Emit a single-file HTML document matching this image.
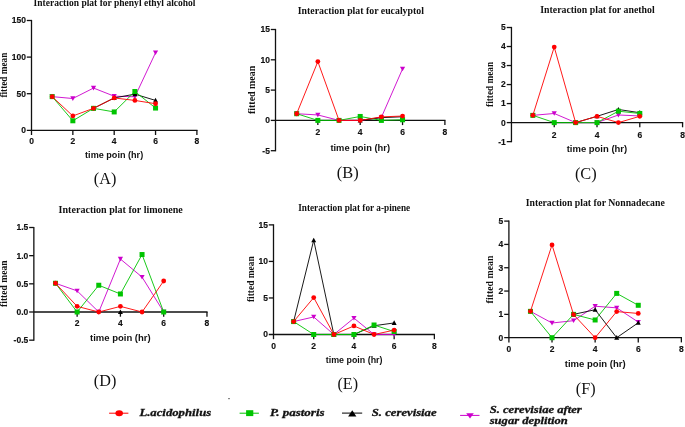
<!DOCTYPE html>
<html><head><meta charset="utf-8"><title>Interaction plots</title>
<style>
html,body{margin:0;padding:0;background:#fff;}
body{width:685px;height:427px;overflow:hidden;}
svg{display:block;will-change:transform;}
.ax{stroke:#111111;stroke-width:1.3;fill:none;}
.tk{font-family:"Liberation Sans",sans-serif;font-weight:bold;font-size:8.5px;fill:#111;stroke:#111;stroke-width:0.15px;}
.ti{font-family:"Liberation Serif",serif;font-weight:bold;font-size:9.8px;fill:#111;}
.yl{font-family:"Liberation Serif",serif;font-weight:bold;font-size:9.4px;fill:#111;}
.xl{font-family:"Liberation Sans",sans-serif;font-weight:bold;font-size:9px;fill:#111;}
.pl{font-family:"Liberation Serif",serif;font-size:17px;fill:#111;}
.lg{font-family:"Liberation Serif",serif;font-weight:bold;font-style:italic;font-size:10.8px;fill:#111;stroke:#111;stroke-width:0.3px;}
</style></head>
<body><svg width="685" height="427" viewBox="0 0 685 427">
<rect width="685" height="427" fill="#fff"/>
<g><line x1="31.5" y1="19.9" x2="31.5" y2="135" class="ax"/>
<line x1="26.8" y1="130.3" x2="197.5" y2="130.3" class="ax"/>
<text x="25.9" y="133.2" class="tk" text-anchor="end">0</text>
<line x1="26.8" y1="93.7" x2="31.5" y2="93.7" class="ax"/>
<text x="25.9" y="96.6" class="tk" text-anchor="end">50</text>
<line x1="26.8" y1="57.1" x2="31.5" y2="57.1" class="ax"/>
<text x="25.9" y="60" class="tk" text-anchor="end">100</text>
<line x1="26.8" y1="20.5" x2="31.5" y2="20.5" class="ax"/>
<text x="25.9" y="23.4" class="tk" text-anchor="end">150</text>
<text x="31.5" y="144" class="tk" text-anchor="middle">0</text>
<line x1="72.85" y1="130.3" x2="72.85" y2="135" class="ax"/>
<text x="72.85" y="144" class="tk" text-anchor="middle">2</text>
<line x1="114.2" y1="130.3" x2="114.2" y2="135" class="ax"/>
<text x="114.2" y="144" class="tk" text-anchor="middle">4</text>
<line x1="155.55" y1="130.3" x2="155.55" y2="135" class="ax"/>
<text x="155.55" y="144" class="tk" text-anchor="middle">6</text>
<line x1="196.9" y1="130.3" x2="196.9" y2="135" class="ax"/>
<text x="196.9" y="144" class="tk" text-anchor="middle">8</text>
<polyline points="52.17,96.63 72.85,98.53 93.53,88.06 114.2,96.19 134.88,96.77 155.55,52.71" fill="none" stroke="#cc00cc" stroke-width="0.9"/>
<path d="M49.57 94.43L54.77 94.43L52.17 99.03Z" fill="#cc00cc"/>
<path d="M70.25 96.33L75.45 96.33L72.85 100.93Z" fill="#cc00cc"/>
<path d="M90.93 85.86L96.12 85.86L93.53 90.46Z" fill="#cc00cc"/>
<path d="M111.6 93.99L116.8 93.99L114.2 98.59Z" fill="#cc00cc"/>
<path d="M132.28 94.57L137.47 94.57L134.88 99.17Z" fill="#cc00cc"/>
<path d="M152.95 50.51L158.15 50.51L155.55 55.11Z" fill="#cc00cc"/>
<polyline points="93.53,108.34 114.2,97.95 134.88,94.14 155.55,100.43" fill="none" stroke="#000000" stroke-width="0.9"/>
<path d="M91.03 110.34L93.53 105.74L96.03 110.34Z" fill="#000000"/>
<path d="M111.7 99.95L114.2 95.35L116.7 99.95Z" fill="#000000"/>
<path d="M132.38 96.14L134.88 91.54L137.38 96.14Z" fill="#000000"/>
<path d="M153.05 102.43L155.55 97.83L158.05 102.43Z" fill="#000000"/>
<polyline points="52.17,96.63 72.85,120.78 93.53,108.34 114.2,111.93 134.88,91.5 155.55,108.05" fill="none" stroke="#00c400" stroke-width="0.9"/>
<rect x="49.67" y="94.13" width="5" height="5" fill="#00c400"/>
<rect x="70.35" y="118.28" width="5" height="5" fill="#00c400"/>
<rect x="91.03" y="105.84" width="5" height="5" fill="#00c400"/>
<rect x="111.7" y="109.43" width="5" height="5" fill="#00c400"/>
<rect x="132.38" y="89" width="5" height="5" fill="#00c400"/>
<rect x="153.05" y="105.55" width="5" height="5" fill="#00c400"/>
<polyline points="52.17,96.63 72.85,115.95 93.53,108.34 114.2,97.95 134.88,100.43 155.55,103.73" fill="none" stroke="#ff0000" stroke-width="0.9"/>
<circle cx="52.17" cy="96.63" r="2.4" fill="#ff0000"/>
<circle cx="72.85" cy="115.95" r="2.4" fill="#ff0000"/>
<circle cx="93.53" cy="108.34" r="2.4" fill="#ff0000"/>
<circle cx="114.2" cy="97.95" r="2.4" fill="#ff0000"/>
<circle cx="134.88" cy="100.43" r="2.4" fill="#ff0000"/>
<circle cx="155.55" cy="103.73" r="2.4" fill="#ff0000"/>
<text x="33.5" y="6.3" class="ti" textLength="162" lengthAdjust="spacingAndGlyphs">Interaction plat for phenyl ethyl alcohol</text>
<text transform="translate(6.6,75.1) rotate(-90)" x="-22.5" y="0" class="yl" textLength="45" lengthAdjust="spacingAndGlyphs">fitted mean</text>
<text x="85.1" y="158.4" class="xl" textLength="58.1" lengthAdjust="spacingAndGlyphs">time poin (hr)</text>
<text x="93.8" y="184" class="pl" textLength="22.5" lengthAdjust="spacingAndGlyphs">(A)</text></g>
<g><line x1="275.5" y1="28.9" x2="275.5" y2="151.3" class="ax"/>
<line x1="275.5" y1="120.4" x2="445.5" y2="120.4" class="ax"/>
<line x1="270.8" y1="150.7" x2="275.5" y2="150.7" class="ax"/>
<text x="269.9" y="153.6" class="tk" text-anchor="end">-5</text>
<line x1="270.8" y1="120.4" x2="275.5" y2="120.4" class="ax"/>
<text x="269.9" y="123.3" class="tk" text-anchor="end">0</text>
<line x1="270.8" y1="90.1" x2="275.5" y2="90.1" class="ax"/>
<text x="269.9" y="93" class="tk" text-anchor="end">5</text>
<line x1="270.8" y1="59.8" x2="275.5" y2="59.8" class="ax"/>
<text x="269.9" y="62.7" class="tk" text-anchor="end">10</text>
<line x1="270.8" y1="29.5" x2="275.5" y2="29.5" class="ax"/>
<text x="269.9" y="32.4" class="tk" text-anchor="end">15</text>
<line x1="317.85" y1="120.4" x2="317.85" y2="125.1" class="ax"/>
<text x="317.85" y="135.1" class="tk" text-anchor="middle">2</text>
<line x1="360.2" y1="120.4" x2="360.2" y2="125.1" class="ax"/>
<text x="360.2" y="135.1" class="tk" text-anchor="middle">4</text>
<line x1="402.55" y1="120.4" x2="402.55" y2="125.1" class="ax"/>
<text x="402.55" y="135.1" class="tk" text-anchor="middle">6</text>
<line x1="444.9" y1="120.4" x2="444.9" y2="125.1" class="ax"/>
<text x="444.9" y="135.1" class="tk" text-anchor="middle">8</text>
<polyline points="296.68,113.73 317.85,114.95 339.02,120.4 360.2,120.4 381.38,117.37 402.55,68.89" fill="none" stroke="#cc00cc" stroke-width="0.9"/>
<path d="M294.07 111.53L299.28 111.53L296.68 116.13Z" fill="#cc00cc"/>
<path d="M315.25 112.75L320.45 112.75L317.85 117.35Z" fill="#cc00cc"/>
<path d="M336.42 118.2L341.62 118.2L339.02 122.8Z" fill="#cc00cc"/>
<path d="M357.6 118.2L362.8 118.2L360.2 122.8Z" fill="#cc00cc"/>
<path d="M378.77 115.17L383.98 115.17L381.38 119.77Z" fill="#cc00cc"/>
<path d="M399.95 66.69L405.15 66.69L402.55 71.29Z" fill="#cc00cc"/>
<polyline points="360.2,120.4 381.38,117.67 402.55,116.76" fill="none" stroke="#000000" stroke-width="0.9"/>
<path d="M357.7 122.4L360.2 117.8L362.7 122.4Z" fill="#000000"/>
<path d="M378.88 119.67L381.38 115.07L383.88 119.67Z" fill="#000000"/>
<path d="M400.05 118.76L402.55 114.16L405.05 118.76Z" fill="#000000"/>
<polyline points="296.68,113.73 317.85,120.4 339.02,120.4 360.2,116.46 381.38,120.4 402.55,119.79" fill="none" stroke="#00c400" stroke-width="0.9"/>
<rect x="294.18" y="111.23" width="5" height="5" fill="#00c400"/>
<rect x="315.35" y="117.9" width="5" height="5" fill="#00c400"/>
<rect x="336.52" y="117.9" width="5" height="5" fill="#00c400"/>
<rect x="357.7" y="113.96" width="5" height="5" fill="#00c400"/>
<rect x="378.88" y="117.9" width="5" height="5" fill="#00c400"/>
<rect x="400.05" y="117.29" width="5" height="5" fill="#00c400"/>
<polyline points="296.68,113.73 317.85,61.62 339.02,120.4 360.2,120.4 381.38,116.89 402.55,116.04" fill="none" stroke="#ff0000" stroke-width="0.9"/>
<circle cx="296.68" cy="113.73" r="2.4" fill="#ff0000"/>
<circle cx="317.85" cy="61.62" r="2.4" fill="#ff0000"/>
<circle cx="339.02" cy="120.4" r="2.4" fill="#ff0000"/>
<circle cx="360.2" cy="120.4" r="2.4" fill="#ff0000"/>
<circle cx="381.38" cy="116.89" r="2.4" fill="#ff0000"/>
<circle cx="402.55" cy="116.04" r="2.4" fill="#ff0000"/>
<text x="297.8" y="13.9" class="ti" textLength="126.1" lengthAdjust="spacingAndGlyphs">Interaction plat for eucalyptol</text>
<text transform="translate(254.7,89.9) rotate(-90)" x="-24.1" y="0" class="yl" textLength="48.2" lengthAdjust="spacingAndGlyphs">fitted mean</text>
<text x="330.4" y="150.5" class="xl" textLength="59.6" lengthAdjust="spacingAndGlyphs">time poin (hr)</text>
<text x="336.8" y="178.1" class="pl" textLength="21.9" lengthAdjust="spacingAndGlyphs">(B)</text></g>
<g><line x1="511.45" y1="26.9" x2="511.45" y2="142.22" class="ax"/>
<line x1="511.45" y1="122.6" x2="683.17" y2="122.6" class="ax"/>
<line x1="506.75" y1="141.62" x2="511.45" y2="141.62" class="ax"/>
<text x="505.85" y="144.52" class="tk" text-anchor="end">-1</text>
<line x1="506.75" y1="122.6" x2="511.45" y2="122.6" class="ax"/>
<text x="505.85" y="125.5" class="tk" text-anchor="end">0</text>
<line x1="506.75" y1="103.58" x2="511.45" y2="103.58" class="ax"/>
<text x="505.85" y="106.48" class="tk" text-anchor="end">1</text>
<line x1="506.75" y1="84.56" x2="511.45" y2="84.56" class="ax"/>
<text x="505.85" y="87.46" class="tk" text-anchor="end">2</text>
<line x1="506.75" y1="65.54" x2="511.45" y2="65.54" class="ax"/>
<text x="505.85" y="68.44" class="tk" text-anchor="end">3</text>
<line x1="506.75" y1="46.52" x2="511.45" y2="46.52" class="ax"/>
<text x="505.85" y="49.42" class="tk" text-anchor="end">4</text>
<line x1="506.75" y1="27.5" x2="511.45" y2="27.5" class="ax"/>
<text x="505.85" y="30.4" class="tk" text-anchor="end">5</text>
<line x1="554.23" y1="122.6" x2="554.23" y2="127.3" class="ax"/>
<text x="554.23" y="137.6" class="tk" text-anchor="middle">2</text>
<line x1="597.01" y1="122.6" x2="597.01" y2="127.3" class="ax"/>
<text x="597.01" y="137.6" class="tk" text-anchor="middle">4</text>
<line x1="639.79" y1="122.6" x2="639.79" y2="127.3" class="ax"/>
<text x="639.79" y="137.6" class="tk" text-anchor="middle">6</text>
<line x1="682.57" y1="122.6" x2="682.57" y2="127.3" class="ax"/>
<text x="682.57" y="137.6" class="tk" text-anchor="middle">8</text>
<polyline points="532.84,115.37 554.23,113.47 575.62,122.6 597.01,122.6 618.4,114.99 639.79,115.94" fill="none" stroke="#cc00cc" stroke-width="0.9"/>
<path d="M530.24 113.17L535.44 113.17L532.84 117.77Z" fill="#cc00cc"/>
<path d="M551.63 111.27L556.83 111.27L554.23 115.87Z" fill="#cc00cc"/>
<path d="M573.02 120.4L578.22 120.4L575.62 125Z" fill="#cc00cc"/>
<path d="M594.41 120.4L599.61 120.4L597.01 125Z" fill="#cc00cc"/>
<path d="M615.8 112.79L621 112.79L618.4 117.39Z" fill="#cc00cc"/>
<path d="M637.19 113.74L642.39 113.74L639.79 118.34Z" fill="#cc00cc"/>
<polyline points="575.62,122.6 597.01,116.32 618.4,109.48 639.79,112.71" fill="none" stroke="#000000" stroke-width="0.9"/>
<path d="M573.12 124.6L575.62 120L578.12 124.6Z" fill="#000000"/>
<path d="M594.51 118.32L597.01 113.72L599.51 118.32Z" fill="#000000"/>
<path d="M615.9 111.48L618.4 106.88L620.9 111.48Z" fill="#000000"/>
<path d="M637.29 114.71L639.79 110.11L642.29 114.71Z" fill="#000000"/>
<polyline points="532.84,115.37 554.23,122.6 575.62,122.6 597.01,122.6 618.4,111.19 639.79,113.47" fill="none" stroke="#00c400" stroke-width="0.9"/>
<rect x="530.34" y="112.87" width="5" height="5" fill="#00c400"/>
<rect x="551.73" y="120.1" width="5" height="5" fill="#00c400"/>
<rect x="573.12" y="120.1" width="5" height="5" fill="#00c400"/>
<rect x="594.51" y="120.1" width="5" height="5" fill="#00c400"/>
<rect x="615.9" y="108.69" width="5" height="5" fill="#00c400"/>
<rect x="637.29" y="110.97" width="5" height="5" fill="#00c400"/>
<polyline points="532.84,115.37 554.23,47.09 575.62,122.6 597.01,116.32 618.4,122.6 639.79,116.32" fill="none" stroke="#ff0000" stroke-width="0.9"/>
<circle cx="532.84" cy="115.37" r="2.4" fill="#ff0000"/>
<circle cx="554.23" cy="47.09" r="2.4" fill="#ff0000"/>
<circle cx="575.62" cy="122.6" r="2.4" fill="#ff0000"/>
<circle cx="597.01" cy="116.32" r="2.4" fill="#ff0000"/>
<circle cx="618.4" cy="122.6" r="2.4" fill="#ff0000"/>
<circle cx="639.79" cy="116.32" r="2.4" fill="#ff0000"/>
<text x="540.2" y="12.7" class="ti" textLength="114.5" lengthAdjust="spacingAndGlyphs">Interaction plat for anethol</text>
<text transform="translate(493.3,84.4) rotate(-90)" x="-22.5" y="0" class="yl" textLength="45" lengthAdjust="spacingAndGlyphs">fitted mean</text>
<text x="566.7" y="152.4" class="xl" textLength="60.5" lengthAdjust="spacingAndGlyphs">time poin (hr)</text>
<text x="574.9" y="178.5" class="pl" textLength="21.8" lengthAdjust="spacingAndGlyphs">(C)</text></g>
<g><line x1="33.85" y1="226.91" x2="33.85" y2="340.77" class="ax"/>
<line x1="33.85" y1="312" x2="207.57" y2="312" class="ax"/>
<line x1="29.15" y1="340.17" x2="33.85" y2="340.17" class="ax"/>
<text x="28.25" y="343.06" class="tk" text-anchor="end">-0.5</text>
<line x1="29.15" y1="312" x2="33.85" y2="312" class="ax"/>
<text x="28.25" y="314.9" class="tk" text-anchor="end">0.0</text>
<line x1="29.15" y1="283.83" x2="33.85" y2="283.83" class="ax"/>
<text x="28.25" y="286.73" class="tk" text-anchor="end">0.5</text>
<line x1="29.15" y1="255.67" x2="33.85" y2="255.67" class="ax"/>
<text x="28.25" y="258.57" class="tk" text-anchor="end">1.0</text>
<line x1="29.15" y1="227.5" x2="33.85" y2="227.5" class="ax"/>
<text x="28.25" y="230.41" class="tk" text-anchor="end">1.5</text>
<line x1="77.13" y1="312" x2="77.13" y2="316.7" class="ax"/>
<text x="77.13" y="326.3" class="tk" text-anchor="middle">2</text>
<line x1="120.41" y1="312" x2="120.41" y2="316.7" class="ax"/>
<text x="120.41" y="326.3" class="tk" text-anchor="middle">4</text>
<line x1="163.69" y1="312" x2="163.69" y2="316.7" class="ax"/>
<text x="163.69" y="326.3" class="tk" text-anchor="middle">6</text>
<line x1="206.97" y1="312" x2="206.97" y2="316.7" class="ax"/>
<text x="206.97" y="326.3" class="tk" text-anchor="middle">8</text>
<polyline points="55.49,283.27 77.13,290.88 98.77,312 120.41,259.05 142.05,277.08 163.69,312" fill="none" stroke="#cc00cc" stroke-width="0.9"/>
<path d="M52.89 281.07L58.09 281.07L55.49 285.67Z" fill="#cc00cc"/>
<path d="M74.53 288.68L79.73 288.68L77.13 293.28Z" fill="#cc00cc"/>
<path d="M96.17 309.8L101.37 309.8L98.77 314.4Z" fill="#cc00cc"/>
<path d="M117.81 256.85L123.01 256.85L120.41 261.45Z" fill="#cc00cc"/>
<path d="M139.45 274.88L144.65 274.88L142.05 279.48Z" fill="#cc00cc"/>
<path d="M161.09 309.8L166.29 309.8L163.69 314.4Z" fill="#cc00cc"/>
<path d="M117.91 314L120.41 309.4L122.91 314Z" fill="#000000"/>
<polyline points="55.49,283.27 77.13,312 98.77,285.24 120.41,293.97 142.05,254.54 163.69,312" fill="none" stroke="#00c400" stroke-width="0.9"/>
<rect x="52.99" y="280.77" width="5" height="5" fill="#00c400"/>
<rect x="74.63" y="309.5" width="5" height="5" fill="#00c400"/>
<rect x="96.27" y="282.74" width="5" height="5" fill="#00c400"/>
<rect x="117.91" y="291.47" width="5" height="5" fill="#00c400"/>
<rect x="139.55" y="252.04" width="5" height="5" fill="#00c400"/>
<rect x="161.19" y="309.5" width="5" height="5" fill="#00c400"/>
<polyline points="55.49,283.27 77.13,306.37 98.77,312 120.41,306.37 142.05,312 163.69,281.02" fill="none" stroke="#ff0000" stroke-width="0.9"/>
<circle cx="55.49" cy="283.27" r="2.4" fill="#ff0000"/>
<circle cx="77.13" cy="306.37" r="2.4" fill="#ff0000"/>
<circle cx="98.77" cy="312" r="2.4" fill="#ff0000"/>
<circle cx="120.41" cy="306.37" r="2.4" fill="#ff0000"/>
<circle cx="142.05" cy="312" r="2.4" fill="#ff0000"/>
<circle cx="163.69" cy="281.02" r="2.4" fill="#ff0000"/>
<text x="58.6" y="212.9" class="ti" textLength="124.2" lengthAdjust="spacingAndGlyphs">Interaction plat for limonene</text>
<text transform="translate(7,283.7) rotate(-90)" x="-23.2" y="0" class="yl" textLength="46.4" lengthAdjust="spacingAndGlyphs">fitted mean</text>
<text x="90" y="341.2" class="xl" textLength="60.7" lengthAdjust="spacingAndGlyphs">time poin (hr)</text>
<text x="93.8" y="386.1" class="pl" textLength="22.5" lengthAdjust="spacingAndGlyphs">(D)</text></g>
<g><line x1="273.5" y1="224.29" x2="273.5" y2="339.2" class="ax"/>
<line x1="268.8" y1="334.5" x2="434.98" y2="334.5" class="ax"/>
<text x="267.9" y="337.4" class="tk" text-anchor="end">0</text>
<line x1="268.8" y1="297.96" x2="273.5" y2="297.96" class="ax"/>
<text x="267.9" y="300.86" class="tk" text-anchor="end">5</text>
<line x1="268.8" y1="261.43" x2="273.5" y2="261.43" class="ax"/>
<text x="267.9" y="264.33" class="tk" text-anchor="end">10</text>
<line x1="268.8" y1="224.89" x2="273.5" y2="224.89" class="ax"/>
<text x="267.9" y="227.79" class="tk" text-anchor="end">15</text>
<text x="273.5" y="348.6" class="tk" text-anchor="middle">0</text>
<line x1="313.72" y1="334.5" x2="313.72" y2="339.2" class="ax"/>
<text x="313.72" y="348.6" class="tk" text-anchor="middle">2</text>
<line x1="353.94" y1="334.5" x2="353.94" y2="339.2" class="ax"/>
<text x="353.94" y="348.6" class="tk" text-anchor="middle">4</text>
<line x1="394.16" y1="334.5" x2="394.16" y2="339.2" class="ax"/>
<text x="394.16" y="348.6" class="tk" text-anchor="middle">6</text>
<line x1="434.38" y1="334.5" x2="434.38" y2="339.2" class="ax"/>
<text x="434.38" y="348.6" class="tk" text-anchor="middle">8</text>
<polyline points="293.61,321.57 313.72,316.96 333.83,334.5 353.94,318.13 374.05,334.5 394.16,334.5" fill="none" stroke="#cc00cc" stroke-width="0.9"/>
<path d="M291.01 319.37L296.21 319.37L293.61 323.97Z" fill="#cc00cc"/>
<path d="M311.12 314.76L316.32 314.76L313.72 319.36Z" fill="#cc00cc"/>
<path d="M331.23 332.3L336.43 332.3L333.83 336.9Z" fill="#cc00cc"/>
<path d="M351.34 315.93L356.54 315.93L353.94 320.53Z" fill="#cc00cc"/>
<path d="M371.45 332.3L376.65 332.3L374.05 336.9Z" fill="#cc00cc"/>
<path d="M391.56 332.3L396.76 332.3L394.16 336.9Z" fill="#cc00cc"/>
<polyline points="293.61,321.57 313.72,240.24 333.83,334.5 353.94,334.5 374.05,325.73 394.16,322.95" fill="none" stroke="#000000" stroke-width="0.9"/>
<path d="M291.11 323.57L293.61 318.97L296.11 323.57Z" fill="#000000"/>
<path d="M311.22 242.24L313.72 237.64L316.22 242.24Z" fill="#000000"/>
<path d="M331.33 336.5L333.83 331.9L336.33 336.5Z" fill="#000000"/>
<path d="M351.44 336.5L353.94 331.9L356.44 336.5Z" fill="#000000"/>
<path d="M371.55 327.73L374.05 323.13L376.55 327.73Z" fill="#000000"/>
<path d="M391.66 324.95L394.16 320.35L396.66 324.95Z" fill="#000000"/>
<polyline points="293.61,321.57 313.72,334.5 333.83,334.5 353.94,334.5 374.05,325 394.16,331.58" fill="none" stroke="#00c400" stroke-width="0.9"/>
<rect x="291.11" y="319.07" width="5" height="5" fill="#00c400"/>
<rect x="311.22" y="332" width="5" height="5" fill="#00c400"/>
<rect x="331.33" y="332" width="5" height="5" fill="#00c400"/>
<rect x="351.44" y="332" width="5" height="5" fill="#00c400"/>
<rect x="371.55" y="322.5" width="5" height="5" fill="#00c400"/>
<rect x="391.66" y="329.08" width="5" height="5" fill="#00c400"/>
<polyline points="293.61,321.57 313.72,297.6 333.83,334.5 353.94,325.95 374.05,334.5 394.16,330.12" fill="none" stroke="#ff0000" stroke-width="0.9"/>
<circle cx="293.61" cy="321.57" r="2.4" fill="#ff0000"/>
<circle cx="313.72" cy="297.6" r="2.4" fill="#ff0000"/>
<circle cx="333.83" cy="334.5" r="2.4" fill="#ff0000"/>
<circle cx="353.94" cy="325.95" r="2.4" fill="#ff0000"/>
<circle cx="374.05" cy="334.5" r="2.4" fill="#ff0000"/>
<circle cx="394.16" cy="330.12" r="2.4" fill="#ff0000"/>
<text x="298.2" y="210.8" class="ti" textLength="112" lengthAdjust="spacingAndGlyphs">Interaction plat for a-pinene</text>
<text transform="translate(254,279.2) rotate(-90)" x="-22.85" y="0" class="yl" textLength="45.7" lengthAdjust="spacingAndGlyphs">fitted mean</text>
<text x="325.8" y="362.8" class="xl" textLength="56.7" lengthAdjust="spacingAndGlyphs">time poin (hr)</text>
<text x="337.5" y="388.5" class="pl" textLength="20.5" lengthAdjust="spacingAndGlyphs">(E)</text></g>
<g><line x1="508.9" y1="220.5" x2="508.9" y2="342.4" class="ax"/>
<line x1="504.2" y1="337.7" x2="681.98" y2="337.7" class="ax"/>
<text x="503.3" y="340.6" class="tk" text-anchor="end">0</text>
<line x1="504.2" y1="314.38" x2="508.9" y2="314.38" class="ax"/>
<text x="503.3" y="317.28" class="tk" text-anchor="end">1</text>
<line x1="504.2" y1="291.06" x2="508.9" y2="291.06" class="ax"/>
<text x="503.3" y="293.96" class="tk" text-anchor="end">2</text>
<line x1="504.2" y1="267.74" x2="508.9" y2="267.74" class="ax"/>
<text x="503.3" y="270.64" class="tk" text-anchor="end">3</text>
<line x1="504.2" y1="244.42" x2="508.9" y2="244.42" class="ax"/>
<text x="503.3" y="247.32" class="tk" text-anchor="end">4</text>
<line x1="504.2" y1="221.1" x2="508.9" y2="221.1" class="ax"/>
<text x="503.3" y="224" class="tk" text-anchor="end">5</text>
<text x="508.9" y="352.4" class="tk" text-anchor="middle">0</text>
<line x1="552.02" y1="337.7" x2="552.02" y2="342.4" class="ax"/>
<text x="552.02" y="352.4" class="tk" text-anchor="middle">2</text>
<line x1="595.14" y1="337.7" x2="595.14" y2="342.4" class="ax"/>
<text x="595.14" y="352.4" class="tk" text-anchor="middle">4</text>
<line x1="638.26" y1="337.7" x2="638.26" y2="342.4" class="ax"/>
<text x="638.26" y="352.4" class="tk" text-anchor="middle">6</text>
<line x1="681.38" y1="337.7" x2="681.38" y2="342.4" class="ax"/>
<text x="681.38" y="352.4" class="tk" text-anchor="middle">8</text>
<polyline points="530.46,311.35 552.02,323.01 573.58,320.68 595.14,306.22 616.7,307.85 638.26,322.08" fill="none" stroke="#cc00cc" stroke-width="0.9"/>
<path d="M527.86 309.15L533.06 309.15L530.46 313.75Z" fill="#cc00cc"/>
<path d="M549.42 320.81L554.62 320.81L552.02 325.41Z" fill="#cc00cc"/>
<path d="M570.98 318.48L576.18 318.48L573.58 323.08Z" fill="#cc00cc"/>
<path d="M592.54 304.02L597.74 304.02L595.14 308.62Z" fill="#cc00cc"/>
<path d="M614.1 305.65L619.3 305.65L616.7 310.25Z" fill="#cc00cc"/>
<path d="M635.66 319.88L640.86 319.88L638.26 324.48Z" fill="#cc00cc"/>
<polyline points="573.58,314.38 595.14,309.72 616.7,337.7 638.26,322.78" fill="none" stroke="#000000" stroke-width="0.9"/>
<path d="M571.08 316.38L573.58 311.78L576.08 316.38Z" fill="#000000"/>
<path d="M592.64 311.72L595.14 307.12L597.64 311.72Z" fill="#000000"/>
<path d="M614.2 339.7L616.7 335.1L619.2 339.7Z" fill="#000000"/>
<path d="M635.76 324.78L638.26 320.18L640.76 324.78Z" fill="#000000"/>
<polyline points="530.46,311.35 552.02,337.7 573.58,314.38 595.14,319.98 616.7,293.39 638.26,305.29" fill="none" stroke="#00c400" stroke-width="0.9"/>
<rect x="527.96" y="308.85" width="5" height="5" fill="#00c400"/>
<rect x="549.52" y="335.2" width="5" height="5" fill="#00c400"/>
<rect x="571.08" y="311.88" width="5" height="5" fill="#00c400"/>
<rect x="592.64" y="317.48" width="5" height="5" fill="#00c400"/>
<rect x="614.2" y="290.89" width="5" height="5" fill="#00c400"/>
<rect x="635.76" y="302.79" width="5" height="5" fill="#00c400"/>
<polyline points="530.46,311.35 552.02,244.89 573.58,314.61 595.14,337.7 616.7,311.58 638.26,313.45" fill="none" stroke="#ff0000" stroke-width="0.9"/>
<circle cx="530.46" cy="311.35" r="2.4" fill="#ff0000"/>
<circle cx="552.02" cy="244.89" r="2.4" fill="#ff0000"/>
<circle cx="573.58" cy="314.61" r="2.4" fill="#ff0000"/>
<circle cx="595.14" cy="337.7" r="2.4" fill="#ff0000"/>
<circle cx="616.7" cy="311.58" r="2.4" fill="#ff0000"/>
<circle cx="638.26" cy="313.45" r="2.4" fill="#ff0000"/>
<text x="525.7" y="205.5" class="ti" textLength="139.1" lengthAdjust="spacingAndGlyphs">Interaction plat for Nonnadecane</text>
<text transform="translate(493,279.5) rotate(-90)" x="-23.9" y="0" class="yl" textLength="47.8" lengthAdjust="spacingAndGlyphs">fitted mean</text>
<text x="564.8" y="367.3" class="xl" textLength="60.8" lengthAdjust="spacingAndGlyphs">time poin (hr)</text>
<text x="575.8" y="394.1" class="pl" textLength="19.7" lengthAdjust="spacingAndGlyphs">(F)</text></g>
<g><line x1="109.1" y1="413.2" x2="128.4" y2="413.2" stroke="#ff0000" stroke-width="1"/>
<ellipse cx="119.2" cy="413.2" rx="3.8" ry="3" fill="#ff0000"/>
<text x="139.4" y="416.1" class="lg" textLength="71.8" lengthAdjust="spacingAndGlyphs">L.acidophilus</text>
<line x1="239.6" y1="413.2" x2="258.9" y2="413.2" stroke="#00c400" stroke-width="1"/>
<rect x="246.1" y="410.2" width="7.2" height="5.9" fill="#00c400"/>
<text x="269.9" y="416.1" class="lg" textLength="54.7" lengthAdjust="spacingAndGlyphs">P. pastoris</text>
<line x1="342" y1="413.1" x2="362.2" y2="413.1" stroke="#000000" stroke-width="1"/>
<path d="M348.1 416.6L352.25 410.2L356.4 416.6Z" fill="#000000"/>
<text x="371.8" y="416.1" class="lg" textLength="64.8" lengthAdjust="spacingAndGlyphs">S. cerevisiae</text>
<line x1="460.1" y1="415.4" x2="479.5" y2="415.4" stroke="#cc00cc" stroke-width="1"/>
<path d="M466.2 413.3L473.8 413.3L470 418.6Z" fill="#cc00cc"/>
<text x="489.7" y="412.7" class="lg" textLength="92" lengthAdjust="spacingAndGlyphs">S. cerevisiae after</text>
<text x="489.7" y="424" class="lg" textLength="78.1" lengthAdjust="spacingAndGlyphs">sugar deplition</text>
<rect x="228" y="398" width="2" height="1.2" fill="#888"/></g>
</svg></body></html>
